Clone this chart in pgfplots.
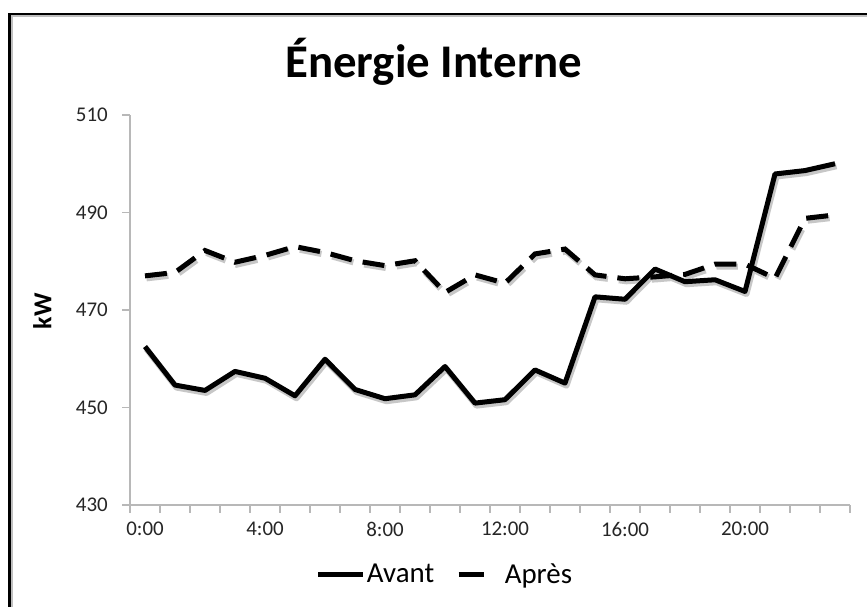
\documentclass[border=0pt]{standalone}
\usepackage{fontspec}
\setmainfont{Carlito}
\usepackage{pgfplots}
\pgfplotsset{compat=1.18}
\begin{document}
\begin{tikzpicture}[x=1bp,y=1bp]
\useasboundingbox (0,0) rectangle (867,607);
\fill[white] (0,0) rectangle (867,607);
\draw[line width=2bp, black!25] (12,0) -- (12,590.5) -- (867,590.5);
\draw[line width=2.5bp, black] (9.7,0) -- (9.7,593.2) -- (867,593.2);
\begin{axis}[
  at={(130bp,102bp)}, anchor=south west,
  scale only axis, width=720bp, height=390bp,
  xmin=-0.5, xmax=23.5, ymin=430, ymax=510,
  axis x line=bottom, axis y line=left,
  axis line style={draw=black!28, line width=1.5bp, -},
  tick align=outside,
  tick style={draw=black!28, line width=1.5bp},
  major tick length=8bp,
  ytick={430,450,...,510},
  xtick={-0.5,0.5,...,23.5},
  xticklabels={},
  extra x ticks={0,4,8,12,16,20},
  extra x tick labels={0:00,4:00,8:00,12:00,16:00,20:00},
  extra x tick style={major tick length=0pt, tick style={draw=none}},
  tick label style={font=\fontsize{21}{21}\selectfont, text=black!85, /pgf/number format/assume math mode=true},
  yticklabel style={anchor=east, inner sep=0pt, xshift=-14bp},
  xticklabel style={anchor=north, inner sep=0pt, yshift=-17bp},
  title={Énergie Interne},
  title style={font=\fontsize{47}{47}\bfseries\selectfont, at={(0.422,1)}, anchor=base, yshift=32bp, inner sep=0pt},
  ylabel={kW},
  ylabel style={at={(-0.122,0.497)}, anchor=center, font=\fontsize{26}{26}\bfseries\selectfont, inner sep=0pt},
  legend columns=2,
  legend style={at={(0.258,-0.177)}, anchor=west, draw=none, fill=none, inner sep=0pt,
    font=\fontsize{29}{29}\selectfont, nodes={inner sep=1bp},
    /tikz/every even column/.append style={column sep=21bp}},
  legend cell align=left,
]
\addplot[black!22, line width=6bp, line join=round, xshift=1.5bp, yshift=-2.5bp, forget plot] coordinates {
(0,462.5) (1,454.6) (2,453.5) (3,457.4) (4,456.0) (5,452.4) (6,459.9) (7,453.7) (8,451.8) (9,452.6) (10,458.4) (11,450.9) (12,451.6) (13,457.7) (14,455.0) (15,472.7) (16,472.2) (17,478.4) (18,475.8) (19,476.2) (20,473.8) (21,497.9) (22,498.6) (23,500.0)};
\addplot[black!22, line width=6bp, dash pattern=on 22bp off 11bp, xshift=1.5bp, yshift=-2.5bp, forget plot] coordinates {
(0,477.0) (1,477.7) (2,482.2) (3,479.8) (4,481.2) (5,483.0) (6,481.8) (7,480.1) (8,479.1) (9,480.1) (10,473.6) (11,477.2) (12,475.5) (13,481.5) (14,482.5) (15,477.2) (16,476.4) (17,476.8) (18,477.3) (19,479.4) (20,479.4) (21,476.5) (22,488.8) (23,489.5)};
\addplot[black, line width=5bp, line join=round,
  legend image code/.code={\draw[black, line width=5bp] (0bp,0bp) -- (45bp,0bp);}] coordinates {
(0,462.5) (1,454.6) (2,453.5) (3,457.4) (4,456.0) (5,452.4) (6,459.9) (7,453.7) (8,451.8) (9,452.6) (10,458.4) (11,450.9) (12,451.6) (13,457.7) (14,455.0) (15,472.7) (16,472.2) (17,478.4) (18,475.8) (19,476.2) (20,473.8) (21,497.9) (22,498.6) (23,500.0)};
\addlegendentry{Avant}
\addplot[black, line width=5bp, dash pattern=on 22bp off 11bp,
  legend image code/.code={\draw[black, line width=5bp, solid] (0bp,0bp) -- (25bp,0bp); \path[draw=none] (45bp,0bp) circle (0.1bp);}] coordinates {
(0,477.0) (1,477.7) (2,482.2) (3,479.8) (4,481.2) (5,483.0) (6,481.8) (7,480.1) (8,479.1) (9,480.1) (10,473.6) (11,477.2) (12,475.5) (13,481.5) (14,482.5) (15,477.2) (16,476.4) (17,476.8) (18,477.3) (19,479.4) (20,479.4) (21,476.5) (22,488.8) (23,489.5)};
\addlegendentry{Après}
\end{axis}
\end{tikzpicture}
\end{document}
